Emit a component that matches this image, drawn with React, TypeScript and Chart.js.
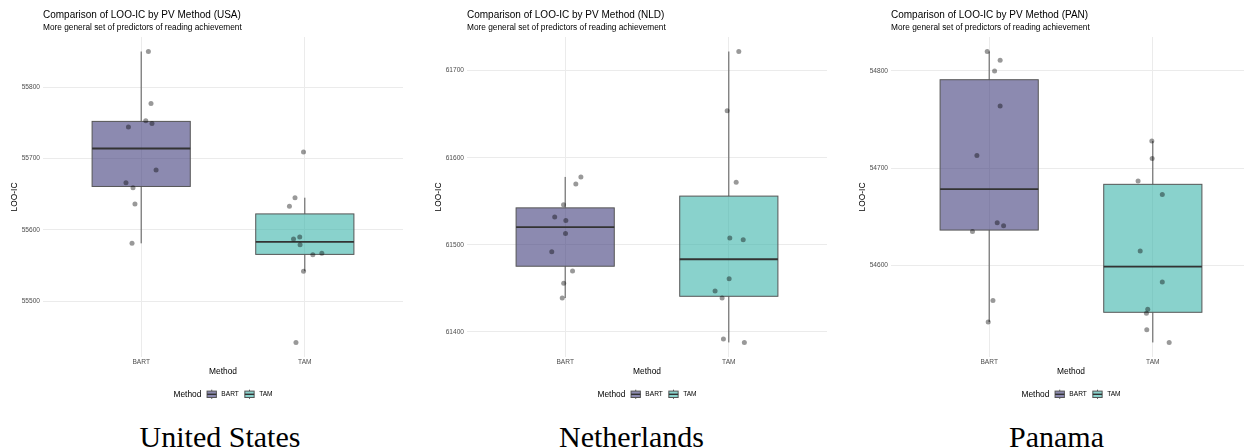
import React, { useEffect, useRef } from "react";
import { Chart, registerables } from "chart.js";
Chart.register(...registerables);

const FONT = '"Liberation Sans", Arial, sans-serif';

const methods = ["BART", "TAM"];
const subtitleText = "More general set of predictors of reading achievement";

// USA
const usaBart = [55850, 55777, 55753, 55749, 55744, 55684, 55666, 55659, 55636, 55581];
const usaBartJitter = [0.044, 0.06, 0.028, 0.066, -0.078, 0.091, -0.093, -0.05, -0.038, -0.056];
const usaTam = [55709, 55645, 55633, 55587, 55590, 55579, 55565, 55567, 55542, 55442];
const usaTamJitter = [-0.008, -0.06, -0.094, -0.069, -0.031, -0.029, 0.049, 0.104, -0.008, -0.054];
const usaTicks = [55500, 55600, 55700, 55800];

// NLD
const nldBart = [61570, 61578, 61546, 61532, 61528, 61513, 61492, 61470, 61456, 61439];
const nldBartJitter = [0.065, 0.096, -0.01, -0.064, 0.004, 0.002, -0.082, 0.045, -0.009, -0.018];
const nldTam = [61722, 61654, 61572, 61508, 61506, 61461, 61447, 61439, 61392, 61388];
const nldTamJitter = [0.061, -0.01, 0.045, 0.006, 0.088, 0.002, -0.084, -0.041, -0.033, 0.095];
const nldTicks = [61400, 61500, 61600, 61700];

// PAN
const panBart = [54820, 54811, 54800, 54764, 54713, 54644, 54641, 54635, 54564, 54542];
const panBartJitter = [-0.012, 0.067, 0.033, 0.067, -0.075, 0.049, 0.088, -0.102, 0.023, -0.006];
const panTam = [54728, 54710, 54687, 54673, 54615, 54583, 54555, 54551, 54534, 54521];
const panTamJitter = [-0.006, -0.004, -0.09, 0.058, -0.077, 0.058, -0.031, -0.039, -0.037, 0.1];
const panTicks = [54600, 54700, 54800];

const captions = ["United States", "Netherlands", "Panama"];

const panels = [
  { code: "USA", bart: usaBart, bartJ: usaBartJitter, tam: usaTam, tamJ: usaTamJitter, ticks: usaTicks },
  { code: "NLD", bart: nldBart, bartJ: nldBartJitter, tam: nldTam, tamJ: nldTamJitter, ticks: nldTicks },
  { code: "PAN", bart: panBart, bartJ: panBartJitter, tam: panTam, tamJ: panTamJitter, ticks: panTicks },
];

const FILLS = ["rgba(63,60,123,0.6)", "rgba(58,180,170,0.6)"];
const OUTLINE = "#555555";
const MEDIAN = "#333333";

function quantile(sorted: number[], p: number) {
  const h = (sorted.length - 1) * p;
  const lo = Math.floor(h);
  const hiV = lo + 1 < sorted.length ? sorted[lo + 1] : sorted[lo];
  return sorted[lo] + (h - lo) * (hiV - sorted[lo]);
}

function boxStats(vals: number[]) {
  const s = [...vals].sort((a, b) => a - b);
  const q1 = quantile(s, 0.25);
  const med = quantile(s, 0.5);
  const q3 = quantile(s, 0.75);
  const iqr = q3 - q1;
  const inside = s.filter((v) => v >= q1 - 1.5 * iqr && v <= q3 + 1.5 * iqr);
  return { q1, med, q3, lo: inside[0], hi: inside[inside.length - 1] };
}

function Panel({ panel, left }: { panel: any; left: number }) {
  const ref = useRef<HTMLCanvasElement>(null);
  useEffect(() => {
    const all = [...panel.bart, ...panel.tam];
    const lo = Math.min(...all);
    const hi = Math.max(...all);
    const pad = (hi - lo) * 0.05;
    const stats = [boxStats(panel.bart), boxStats(panel.tam)];

    const boxPlugin = {
      id: "boxes",
      beforeDatasetsDraw(chart: any) {
        const { ctx, scales } = chart;
        const x = scales.x;
        const y = scales.y;
        ctx.save();
        stats.forEach((s, i) => {
          const cx = x.getPixelForValue(i + 1);
          const xl = x.getPixelForValue(i + 1 - 0.3);
          const xr = x.getPixelForValue(i + 1 + 0.3);
          const yq1 = y.getPixelForValue(s.q1);
          const yq3 = y.getPixelForValue(s.q3);
          const ym = y.getPixelForValue(s.med);
          const ylo = y.getPixelForValue(s.lo);
          const yhi = y.getPixelForValue(s.hi);
          ctx.strokeStyle = OUTLINE;
          ctx.lineWidth = 1;
          ctx.beginPath();
          ctx.moveTo(cx, yhi);
          ctx.lineTo(cx, yq3);
          ctx.moveTo(cx, yq1);
          ctx.lineTo(cx, ylo);
          ctx.stroke();
          ctx.fillStyle = FILLS[i];
          ctx.fillRect(xl, yq3, xr - xl, yq1 - yq3);
          ctx.strokeRect(xl, yq3, xr - xl, yq1 - yq3);
          ctx.strokeStyle = MEDIAN;
          ctx.lineWidth = 1.8;
          ctx.beginPath();
          ctx.moveTo(xl, ym);
          ctx.lineTo(xr, ym);
          ctx.stroke();
        });
        ctx.restore();
      },
      afterDraw(chart: any) {
        const { ctx, chartArea } = chart;
        const cy = 394.3;
        ctx.save();
        ctx.textBaseline = "middle";
        ctx.textAlign = "left";
        const titleFont = `8.4px ${FONT}`;
        const itemFont = `6.6px ${FONT}`;
        ctx.font = titleFont;
        const wTitle = ctx.measureText("Method").width;
        ctx.font = itemFont;
        const wItems = methods.map((m) => ctx.measureText(m).width);
        const keyW = 9.3;
        const g1 = 5.7, g2 = 5, g3 = 6;
        const total = wTitle + g1 + keyW + g2 + wItems[0] + g3 + keyW + g2 + wItems[1];
        let xPos = (chartArea.left + chartArea.right) / 2 - total / 2;
        ctx.fillStyle = "#000";
        ctx.font = titleFont;
        ctx.fillText("Method", xPos, cy);
        xPos += wTitle + g1;
        methods.forEach((m, i) => {
          const kx = xPos, kc = kx + keyW / 2;
          ctx.fillStyle = "#ffffff";
          ctx.fillRect(kx, cy - 3.2, keyW, 6.4);
          ctx.strokeStyle = OUTLINE;
          ctx.lineWidth = 1;
          ctx.beginPath();
          ctx.moveTo(kc, cy - 4.6);
          ctx.lineTo(kc, cy - 3.2);
          ctx.moveTo(kc, cy + 3.2);
          ctx.lineTo(kc, cy + 4.6);
          ctx.stroke();
          ctx.fillStyle = FILLS[i];
          ctx.fillRect(kx, cy - 3.2, keyW, 6.4);
          ctx.strokeRect(kx, cy - 3.2, keyW, 6.4);
          ctx.strokeStyle = MEDIAN;
          ctx.lineWidth = 1.4;
          ctx.beginPath();
          ctx.moveTo(kx, cy);
          ctx.lineTo(kx + keyW, cy);
          ctx.stroke();
          xPos += keyW + g2;
          ctx.fillStyle = "#000";
          ctx.font = itemFont;
          ctx.fillText(m, xPos, cy);
          xPos += wItems[i] + g3;
        });
        ctx.restore();
      },
    };

    const mkPoints = (vals: number[], jit: number[], cat: number) =>
      vals.map((v, k) => ({ x: cat + jit[k], y: v }));

    const chart = new Chart(ref.current as HTMLCanvasElement, {
      type: "scatter",
      data: {
        datasets: [
          { label: "BART", data: mkPoints(panel.bart, panel.bartJ, 1), backgroundColor: "rgba(0,0,0,0.4)", borderWidth: 0, pointRadius: 2.5 },
          { label: "TAM", data: mkPoints(panel.tam, panel.tamJ, 2), backgroundColor: "rgba(0,0,0,0.4)", borderWidth: 0, pointRadius: 2.5 },
        ],
      },
      options: {
        animation: false,
        responsive: false,
        events: [],
        layout: { padding: { left: 0, right: 21, top: 0, bottom: 22 } },
        plugins: {
          legend: { display: false },
          tooltip: { enabled: false },
          title: {
            display: true,
            text: `Comparison of LOO-IC by PV Method (${panel.code})`,
            align: "start",
            fullSize: false,
            color: "#000",
            font: { family: FONT, size: 10, weight: "normal" },
            padding: { top: 9, bottom: 0 },
          },
          subtitle: {
            display: true,
            text: subtitleText,
            align: "start",
            fullSize: false,
            color: "#000",
            font: { family: FONT, size: 8.3, weight: "normal" },
            padding: { top: 2, bottom: 4 },
          },
        },
        scales: {
          x: {
            type: "linear",
            min: 0.4,
            max: 2.6,
            afterBuildTicks: (s: any) => {
              s.ticks = methods.map((_, i) => ({ value: i + 1 }));
            },
            afterFit: (s: any) => {
              s.height = 21;
            },
            ticks: {
              callback: (v: any) => methods[Math.round(v) - 1],
              color: "#4d4d4d",
              font: { family: FONT, size: 6.6 },
              padding: 1.5,
              maxRotation: 0,
              autoSkip: false,
            },
            grid: { color: "#ebebeb", lineWidth: 1, drawTicks: false },
            border: { display: false },
            title: {
              display: true,
              text: "Method",
              color: "#000",
              font: { family: FONT, size: 8.4 },
              padding: { top: 0, bottom: 1.3 },
            },
          },
          y: {
            type: "linear",
            min: lo - pad,
            max: hi + pad,
            afterBuildTicks: (s: any) => {
              s.ticks = panel.ticks.map((v: number) => ({ value: v }));
            },
            afterFit: (s: any) => {
              s.width = 43;
            },
            ticks: {
              callback: (v: any) => String(v),
              color: "#4d4d4d",
              font: { family: FONT, size: 6.6 },
              padding: 3,
            },
            grid: { color: "#ebebeb", lineWidth: 1, drawTicks: false },
            border: { display: false },
            title: {
              display: true,
              text: "LOO-IC",
              color: "#000",
              font: { family: FONT, size: 8.4 },
              padding: { top: 10, bottom: 0 },
            },
          },
        },
      } as any,
      plugins: [boxPlugin],
    });
    return () => chart.destroy();
  }, [panel]);
  return (
    <canvas
      ref={ref}
      width={424}
      height={400}
      style={{ position: "absolute", left, top: 0, width: 424, height: 400 }}
    />
  );
}

const captionCenters = [220, 631.5, 1056.5];

export default function App() {
  return (
    <div
      style={{
        position: "absolute",
        left: 0,
        top: 0,
        width: 1244,
        height: 448,
        overflow: "hidden",
        background: "#fff",
      }}
    >
      {panels.map((p, i) => (
        <Panel key={p.code} panel={p} left={424 * i} />
      ))}
      {captions.map((c, i) => (
        <div
          key={c}
          style={{
            position: "absolute",
            left: captionCenters[i] - 200,
            width: 400,
            top: 422,
            textAlign: "center",
            fontFamily: '"Liberation Serif", serif',
            fontSize: 30,
            lineHeight: "30px",
            color: "#000",
          }}
        >
          {c}
        </div>
      ))}
    </div>
  );
}
